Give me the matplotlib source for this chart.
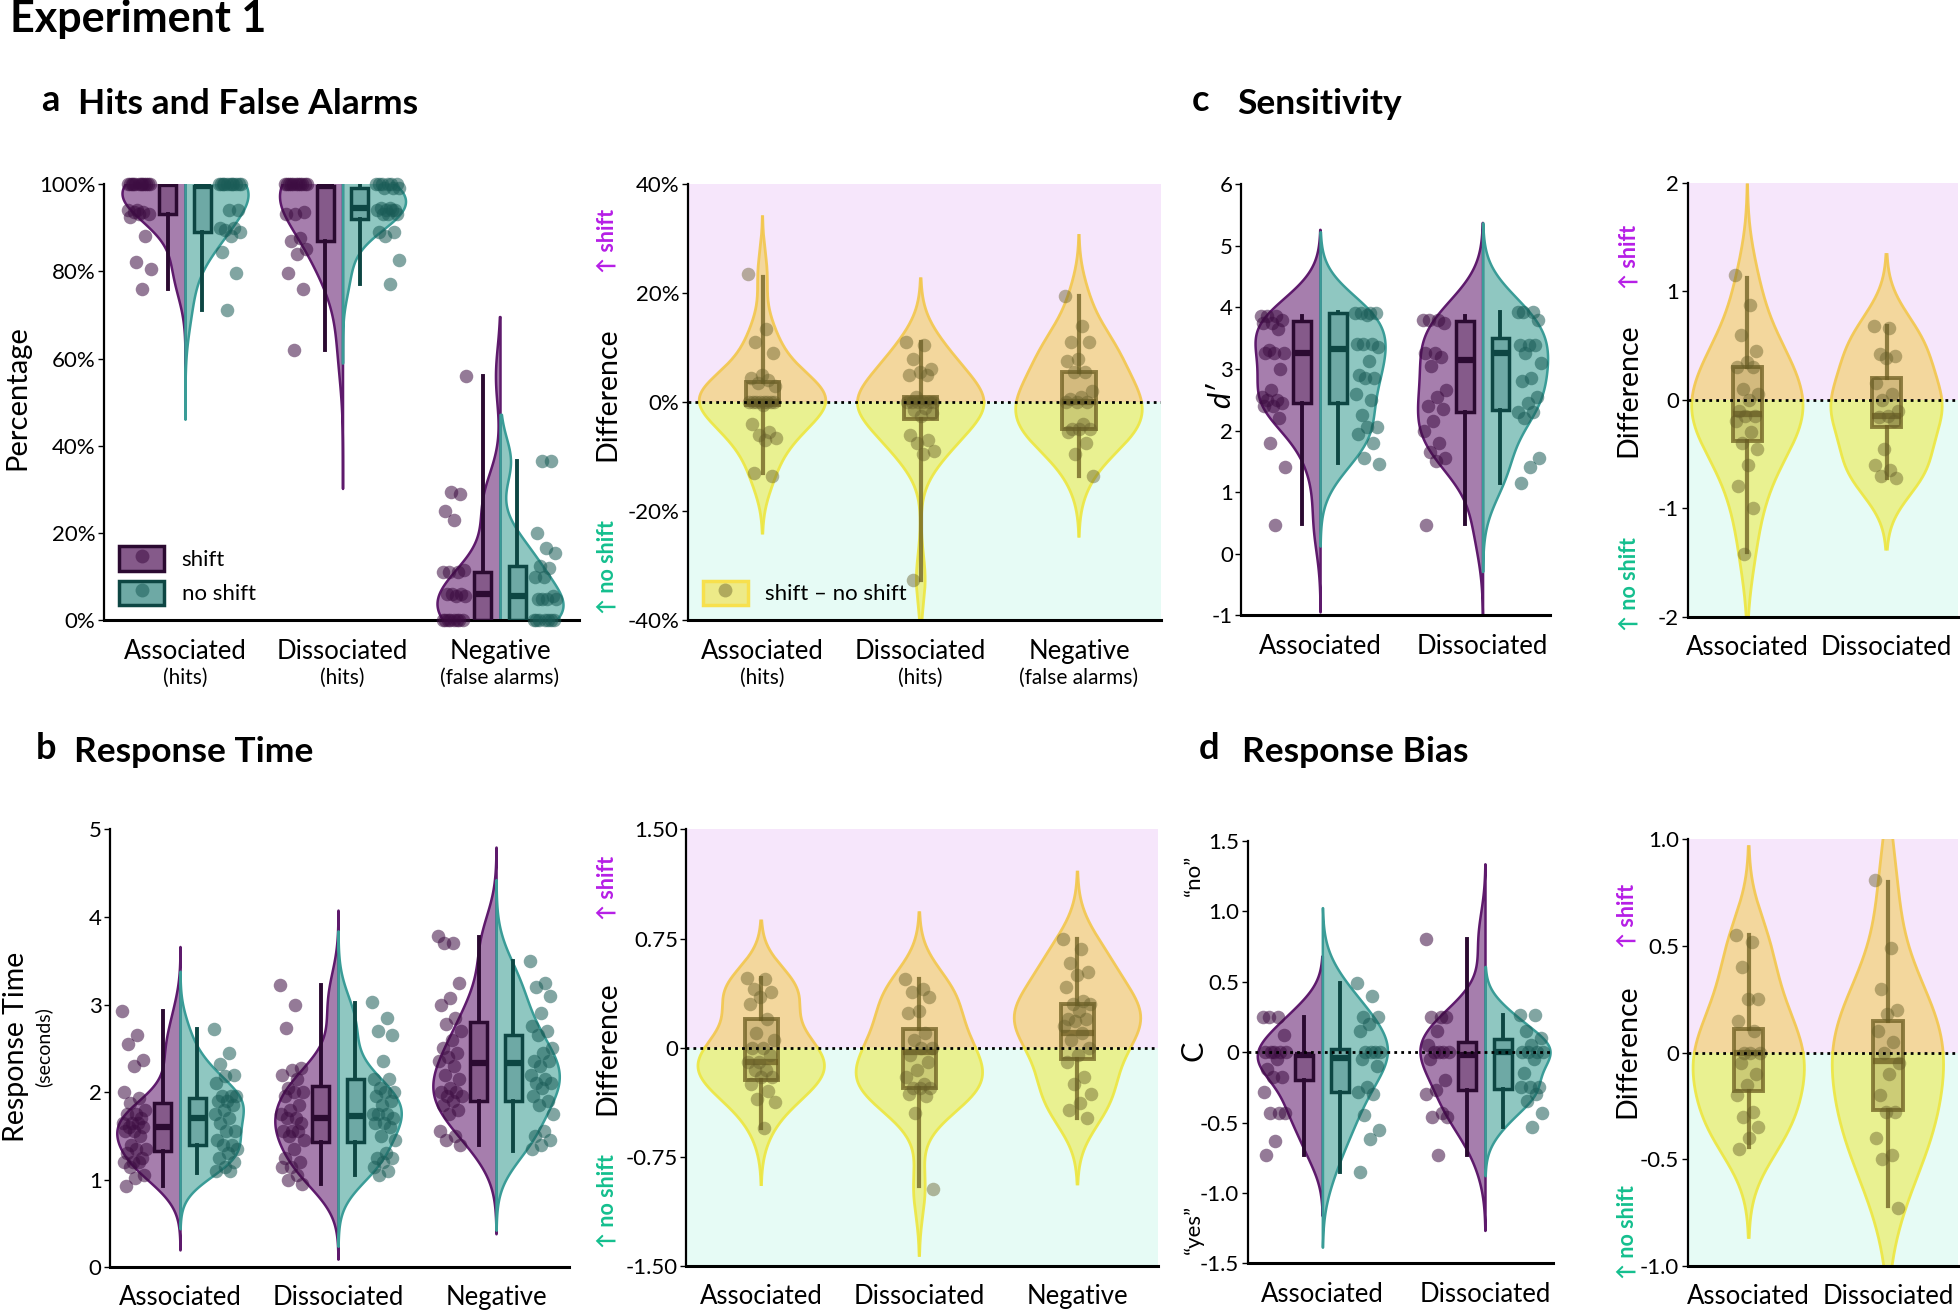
import numpy as np
import matplotlib
matplotlib.use("Agg")
from matplotlib import pyplot as plt
from matplotlib.patches import Patch
from matplotlib.lines import Line2D

plt.rcParams['font.family'] = ['Lato', 'DejaVu Sans']

######## a: hits / false alarms (percent) ########
cats3 = ["Associated", "Dissociated", "Negative"]
sub3 = ["(hits)", "(hits)", "(false alarms)"]
cats2 = ["Associated", "Dissociated"]

hits_assoc_shift = [100, 100, 100, 100, 100, 100, 100, 100, 100, 100, 100, 100, 94, 94, 93.5, 93.5, 93, 93, 92.5, 88, 82, 80.5, 76]
hits_assoc_noshift = [100, 100, 100, 100, 100, 100, 100, 100, 100, 100, 100, 94, 94, 90, 90, 89.5, 89, 88, 84.5, 79.5, 71]
hits_dissoc_shift = [100, 100, 100, 100, 100, 100, 100, 100, 100, 100, 100, 93.5, 93, 93, 87.5, 87, 85, 84, 79.5, 76, 62]
hits_dissoc_noshift = [100, 100, 100, 100, 100, 100, 99, 99, 99, 94.5, 94.5, 94, 94, 94, 94, 93, 93, 93, 89, 89, 88, 82.5, 77]
fa_neg_shift = [0, 0, 0, 0, 0, 0, 0, 0, 5.5, 5.5, 6, 6, 6, 11, 11, 11, 11.5, 23, 25, 29, 29.5, 56]
fa_neg_noshift = [0, 0, 0, 0, 0, 0, 0, 5, 5, 5, 5, 5.5, 10, 10, 12, 12.5, 15.5, 16.5, 20, 36.5, 36.5]
# box stats: whislo, q1, med, q3, whishi
box_hits_assoc_shift = [76, 93, 100, 100, 100]
box_hits_assoc_noshift = [71, 89, 99.5, 99.5, 100]
box_hits_dissoc_shift = [62, 87, 99.5, 99.5, 100]
box_hits_dissoc_noshift = [77, 92, 94.5, 99, 100]
box_fa_neg_shift = [0, 0, 6, 11, 56]
box_fa_neg_noshift = [0, 0, 5.5, 12.5, 36.5]

diff_hits_assoc = [23.5, 13.5, 11, 9, 5, 4.5, 4, 3.5, 3, 0, 0, 0, 0, 0, 0, 0, 0, -0.5, -4, -5.5, -6, -6.5, -7, -13, -13.5]
diff_hits_dissoc = [11, 10.5, 8, 6, 5.5, 5, 5, 1, 0, 0, 0, 0, 0, 0, -1, -1.5, -2, -2.5, -6, -7, -7.5, -9, -9.5, -32.5]
diff_fa_neg = [19.5, 14, 11, 11, 8, 7.5, 5.5, 5.5, 2, 1, 0.5, 0, 0, 0, -4, -5, -5, -5, -5.5, -7.5, -9.5, -13.5]
box_diff_hits_assoc = [-13, -0.5, 0, 3.7, 23]
box_diff_hits_dissoc = [-32.5, -3, 0, 1, 11]
box_diff_fa_neg = [-13.5, -5, 0, 5.5, 19.5]

######## b: response time (s) ########
rt_assoc_shift = [2.93, 2.65, 2.55, 2.37, 2.3, 2.0, 1.93, 1.88, 1.8, 1.75, 1.75, 1.7, 1.65, 1.65, 1.65, 1.6, 1.6, 1.55, 1.55, 1.5, 1.4, 1.35, 1.35, 1.3, 1.25, 1.2, 1.2, 1.2, 1.15, 1.05, 1.02, 0.93]
rt_assoc_noshift = [2.72, 2.45, 2.32, 2.2, 2.18, 2.1, 1.95, 1.95, 1.95, 1.9, 1.9, 1.85, 1.8, 1.75, 1.7, 1.65, 1.55, 1.55, 1.45, 1.4, 1.4, 1.35, 1.3, 1.25, 1.2, 1.15, 1.1, 1.1]
rt_dissoc_shift = [3.22, 3.0, 2.73, 2.28, 2.25, 2.2, 2.15, 2.05, 2.0, 2.0, 1.95, 1.85, 1.8, 1.75, 1.7, 1.7, 1.65, 1.55, 1.55, 1.55, 1.5, 1.45, 1.35, 1.25, 1.2, 1.15, 1.15, 1.05, 1.0, 0.95]
rt_dissoc_noshift = [3.03, 2.85, 2.7, 2.65, 2.35, 2.15, 2.15, 2.05, 2.0, 2.0, 1.95, 1.9, 1.85, 1.75, 1.75, 1.75, 1.7, 1.65, 1.65, 1.6, 1.5, 1.45, 1.3, 1.25, 1.25, 1.2, 1.15, 1.1, 1.05]
rt_neg_shift = [3.78, 3.7, 3.7, 3.25, 3.08, 3.0, 2.85, 2.78, 2.7, 2.6, 2.5, 2.45, 2.4, 2.35, 2.3, 2.2, 2.15, 2.05, 2.0, 2.0, 1.95, 1.95, 1.9, 1.85, 1.8, 1.75, 1.55, 1.5, 1.45, 1.4]
rt_neg_noshift = [3.5, 3.25, 3.2, 3.1, 2.9, 2.75, 2.7, 2.65, 2.5, 2.45, 2.35, 2.35, 2.3, 2.2, 2.15, 2.1, 2.1, 2.05, 1.95, 1.9, 1.85, 1.75, 1.55, 1.5, 1.45, 1.4, 1.35]
box_rt_assoc_shift = [0.93, 1.33, 1.6, 1.88, 2.93]
box_rt_assoc_noshift = [1.08, 1.4, 1.7, 1.93, 2.72]
box_rt_dissoc_shift = [0.95, 1.43, 1.7, 2.07, 3.22]
box_rt_dissoc_noshift = [1.05, 1.43, 1.73, 2.15, 3.02]
box_rt_neg_shift = [1.4, 1.9, 2.33, 2.8, 3.77]
box_rt_neg_noshift = [1.33, 1.9, 2.33, 2.65, 3.5]

diff_rt_assoc = [0.48, 0.47, 0.4, 0.38, 0.35, 0.3, 0.2, 0.1, 0.05, 0.0, 0.0, -0.05, -0.1, -0.1, -0.15, -0.15, -0.2, -0.2, -0.25, -0.3, -0.35, -0.37, -0.55]
diff_rt_dissoc = [0.47, 0.4, 0.38, 0.35, 0.25, 0.24, 0.1, 0.05, 0.0, 0.0, -0.05, -0.1, -0.15, -0.2, -0.25, -0.28, -0.28, -0.28, -0.32, -0.33, -0.45, -0.97]
diff_rt_neg = [0.75, 0.68, 0.58, 0.52, 0.5, 0.42, 0.32, 0.3, 0.3, 0.25, 0.2, 0.2, 0.18, 0.15, 0.1, 0.05, 0.0, -0.05, -0.1, -0.2, -0.25, -0.32, -0.38, -0.43, -0.48]
box_diff_rt_assoc = [-0.55, -0.22, -0.1, 0.2, 0.48]
box_diff_rt_dissoc = [-0.95, -0.28, -0.03, 0.13, 0.47]
box_diff_rt_neg = [-0.48, -0.08, 0.1, 0.3, 0.75]

######## c: sensitivity d' ########
dp_assoc_shift = [3.85, 3.85, 3.85, 3.8, 3.75, 3.75, 3.65, 3.3, 3.25, 3.25, 3.25, 3.0, 2.65, 2.55, 2.5, 2.5, 2.45, 2.4, 2.4, 2.2, 1.8, 1.4, 0.47]
dp_assoc_noshift = [3.9, 3.9, 3.9, 3.9, 3.88, 3.4, 3.4, 3.4, 3.35, 3.12, 2.9, 2.85, 2.85, 2.6, 2.5, 2.25, 2.05, 2.05, 1.95, 1.8, 1.55, 1.45]
dp_dissoc_shift = [3.8, 3.8, 3.8, 3.75, 3.25, 3.25, 3.2, 3.05, 2.65, 2.55, 2.4, 2.35, 2.15, 2.0, 1.8, 1.65, 1.55, 1.5, 0.47]
dp_dissoc_noshift = [3.93, 3.93, 3.93, 3.8, 3.38, 3.38, 3.38, 3.25, 3.1, 2.85, 2.8, 2.55, 2.45, 2.3, 2.3, 2.2, 1.55, 1.4, 1.15]
box_dp_assoc_shift = [0.48, 2.45, 3.25, 3.78, 3.85]
box_dp_assoc_noshift = [1.47, 2.45, 3.33, 3.9, 3.93]
box_dp_dissoc_shift = [0.48, 2.3, 3.15, 3.78, 3.85]
box_dp_dissoc_noshift = [1.15, 2.33, 3.25, 3.5, 3.93]

diff_dp_assoc = [1.15, 0.87, 0.6, 0.45, 0.35, 0.3, 0.3, 0.1, 0.05, 0.0, -0.1, -0.15, -0.15, -0.2, -0.3, -0.4, -0.45, -0.6, -0.8, -1.0, -1.42]
diff_dp_dissoc = [0.68, 0.66, 0.42, 0.4, 0.38, 0.15, 0.05, 0.0, -0.1, -0.15, -0.16, -0.2, -0.45, -0.6, -0.65, -0.7, -0.72]
box_diff_dp_assoc = [-1.4, -0.38, -0.13, 0.3, 1.12]
box_diff_dp_dissoc = [-0.72, -0.25, -0.15, 0.2, 0.68]

######## d: response bias C ########
c_assoc_shift = [0.25, 0.25, 0.25, 0.12, 0.0, 0.0, 0.0, 0.0, 0.0, -0.05, -0.12, -0.18, -0.18, -0.28, -0.43, -0.43, -0.43, -0.63, -0.73]
c_assoc_noshift = [0.49, 0.4, 0.25, 0.25, 0.2, 0.15, 0.0, 0.0, 0.0, 0.0, -0.05, -0.1, -0.25, -0.28, -0.3, -0.45, -0.55, -0.62, -0.85]
c_dissoc_shift = [0.8, 0.25, 0.25, 0.25, 0.15, 0.05, 0.0, 0.0, 0.0, 0.0, -0.05, -0.2, -0.27, -0.3, -0.43, -0.46, -0.46, -0.73]
c_dissoc_noshift = [0.26, 0.26, 0.15, 0.1, 0.05, 0.0, 0.0, 0.0, 0.0, -0.05, -0.15, -0.25, -0.25, -0.25, -0.3, -0.35, -0.43, -0.53]
box_c_assoc_shift = [-0.73, -0.2, -0.02, -0.02, 0.25]
box_c_assoc_noshift = [-0.85, -0.28, -0.04, 0.02, 0.49]
box_c_dissoc_shift = [-0.73, -0.27, -0.02, 0.07, 0.8]
box_c_dissoc_noshift = [-0.53, -0.26, 0.0, 0.09, 0.26]

diff_c_assoc = [0.55, 0.52, 0.4, 0.25, 0.25, 0.15, 0.1, 0.0, 0.0, 0.0, -0.05, -0.1, -0.15, -0.2, -0.28, -0.3, -0.35, -0.4, -0.45]
diff_c_dissoc = [0.81, 0.49, 0.3, 0.2, 0.18, 0.1, 0.05, 0.0, -0.05, -0.1, -0.2, -0.28, -0.28, -0.4, -0.48, -0.5, -0.73]
box_diff_c_assoc = [-0.44, -0.18, 0.0, 0.11, 0.55]
box_diff_c_dissoc = [-0.72, -0.27, -0.04, 0.15, 0.8]

######## colours ########
SH_FACE = (0.40, 0.13, 0.45, 0.58)
SH_EDGE = "#5e1a6c"
SH_BOX = "#855a8a"
SH_DARK = "#2b0a31"
SH_PT = (0.24, 0.05, 0.26, 0.55)
NS_FACE = (0.20, 0.60, 0.56, 0.55)
NS_EDGE = "#3a9c97"
NS_BOX = "#6ea9a5"
NS_DARK = "#0d4643"
NS_PT = (0.10, 0.36, 0.34, 0.55)
UP_FACE = (0.95, 0.79, 0.25, 0.5)
UP_EDGE = (0.95, 0.78, 0.30, 0.9)
DN_FACE = (0.93, 0.91, 0.18, 0.5)
DN_EDGE = (0.93, 0.90, 0.25, 0.9)
D_BOXF = (0.55, 0.47, 0.22, 0.3)
D_BOXE = (0.42, 0.36, 0.12, 0.75)
D_PT = (0.40, 0.37, 0.16, 0.45)
PINK = "#f6e6fb"
MINT = "#e6fbf5"

W, H = 1568., 1048.


def rect(x0, y0, x1, y1):
    return [x0 / W, 1 - y1 / H, (x1 - x0) / W, (y1 - y0) / H]


def kde(vals, cut=3.0, bws=1.0, extra=None):
    v = np.asarray(vals, float)
    bw = bws * v.std(ddof=1) * len(v) ** (-0.2)
    g = np.linspace(v.min() - cut * bw, v.max() + cut * bw, 400)
    if extra is not None:
        g = np.union1d(g, extra)
    d = np.exp(-0.5 * ((g[:, None] - v[None, :]) / bw) ** 2).sum(1)
    return g, d / d.max()


def jit(n, spread):
    return ((np.arange(n) * 0.618034) % 1 - 0.5) * 2 * spread


def stats(b):
    return dict(whislo=b[0], q1=b[1], med=b[2], q3=b[3], whishi=b[4])


def style(ax, xlim, ylim, yticks, ylabels, cats):
    ax.set_xlim(*xlim)
    ax.set_ylim(*ylim)
    for s in ["top", "right"]:
        ax.spines[s].set_visible(False)
    ax.spines["left"].set_linewidth(1.6)
    ax.spines["bottom"].set_linewidth(2.2)
    ax.set_yticks(yticks)
    ax.set_yticklabels(ylabels, fontsize=16)
    ax.set_xticks(range(len(cats)))
    ax.set_xticklabels(cats, fontsize=18.5)
    ax.tick_params(axis="x", length=0, pad=13)
    ax.tick_params(axis="y", length=4, width=1, pad=2)
    ax.set_facecolor("none")


def split_panel(ax, groups_shift, groups_noshift, boxes_shift, boxes_noshift, kdeopts=None):
    n = len(groups_shift)
    if kdeopts is None:
        kdeopts = [(3.0, 1.0)] * n
    for i, (vs, vn) in enumerate(zip(groups_shift, groups_noshift)):
        cut, bws = kdeopts[i]
        g, d = kde(vs, cut, bws)
        ax.fill_betweenx(g, i, i - 0.4 * d, facecolor=SH_FACE, edgecolor=SH_EDGE, lw=1.8, zorder=2)
        g, d = kde(vn, cut, bws)
        ax.fill_betweenx(g, i, i + 0.4 * d, facecolor=NS_FACE, edgecolor=NS_EDGE, lw=1.8, zorder=2)
        ax.scatter(i - 0.29 + jit(len(vs), 0.075), vs, s=95, color=SH_PT, lw=0, zorder=5, clip_on=False)
        ax.scatter(i + 0.29 + jit(len(vn), 0.075), vn, s=95, color=NS_PT, lw=0, zorder=5, clip_on=False)
    for boxes, off, fc, dk in [(boxes_shift, -0.11, SH_BOX, SH_DARK), (boxes_noshift, 0.11, NS_BOX, NS_DARK)]:
        ax.bxp([stats(b) for b in boxes], positions=np.arange(n) + off, widths=0.11,
               patch_artist=True, showfliers=False, showcaps=False, zorder=4,
               boxprops=dict(facecolor=fc, edgecolor=dk, lw=2.5),
               whiskerprops=dict(color=dk, lw=2.8),
               medianprops=dict(color=dk, lw=4.5, solid_capstyle="butt"))


def diff_panel(ax, groups, boxes, ylim):
    ax.axhspan(0, ylim[1], color=PINK, zorder=0, lw=0)
    ax.axhspan(ylim[0], 0, color=MINT, zorder=0, lw=0)
    for i, v in enumerate(groups):
        g, d = kde(v, cut=2.5, extra=[0.0])
        d = 0.4 * d
        up = g >= 0
        dn = g <= 0
        ax.fill_betweenx(g[up], i - d[up], i + d[up], facecolor=UP_FACE, lw=0, zorder=2)
        ax.fill_betweenx(g[dn], i - d[dn], i + d[dn], facecolor=DN_FACE, lw=0, zorder=2)
        for sgn in (-1, 1):
            ax.plot(i + sgn * d[up], g[up], color=UP_EDGE, lw=2, zorder=2)
            ax.plot(i + sgn * d[dn], g[dn], color=DN_EDGE, lw=2, zorder=2)
        ax.scatter(i + jit(len(v), 0.09), v, s=95, color=D_PT, lw=0, zorder=5)
    ax.bxp([stats(b) for b in boxes], positions=np.arange(len(boxes)), widths=0.21,
           patch_artist=True, showfliers=False, showcaps=False, zorder=4,
           boxprops=dict(facecolor=D_BOXF, edgecolor=D_BOXE, lw=2.8),
           whiskerprops=dict(color=D_BOXE, lw=3),
           medianprops=dict(color=D_BOXE, lw=4.5, solid_capstyle="butt"))
    ax.axhline(0, color="k", ls=(0, (1, 1.5)), lw=2, zorder=6)


def subl(ax, labels):
    for i, t in enumerate(labels):
        ax.annotate(t, xy=(i, 0), xycoords=("data", "axes fraction"), xytext=(0, -34),
                    textcoords="offset points", ha="center", va="top", fontsize=15)


def ftext(x, y, t, **kw):
    fig.text(x / W, 1 - y / H, t, ha="center", va="center", **kw)


fig = plt.figure(figsize=(19.6, 13.11), dpi=100, facecolor="w")

# ---- a ----
ax = fig.add_axes(rect(83, 147, 463, 496))
split_panel(ax, [hits_assoc_shift, hits_dissoc_shift, fa_neg_shift],
            [hits_assoc_noshift, hits_dissoc_noshift, fa_neg_noshift],
            [box_hits_assoc_shift, box_hits_dissoc_shift, box_fa_neg_shift],
            [box_hits_assoc_noshift, box_hits_dissoc_noshift, box_fa_neg_noshift],
            kdeopts=[(4.0, 1.4), (4.0, 1.4), (2.0, 0.9)])
style(ax, (-0.516, 2.5), (0, 100), [0, 20, 40, 60, 80, 100], ["0%", "20%", "40%", "60%", "80%", "100%"], cats3)
subl(ax, sub3)
h1 = (Patch(facecolor=SH_BOX, edgecolor=SH_DARK, lw=2.5), Line2D([], [], ls="", marker="o", ms=10, color=SH_PT, mew=0))
h2 = (Patch(facecolor=NS_BOX, edgecolor=NS_DARK, lw=2.5), Line2D([], [], ls="", marker="o", ms=10, color=NS_PT, mew=0))
ax.legend([h1, h2], ["shift", "no shift"], loc="lower left", bbox_to_anchor=(0.0, 0.0), frameon=False,
          fontsize=16, handlelength=2.0, handleheight=1.3, labelspacing=0.45, borderaxespad=0.3)

ax = fig.add_axes(rect(550, 147, 929, 496))
diff_panel(ax, [diff_hits_assoc, diff_hits_dissoc, diff_fa_neg],
           [box_diff_hits_assoc, box_diff_hits_dissoc, box_diff_fa_neg], (-40, 40))
style(ax, (-0.474, 2.52), (-40, 40), [-40, -20, 0, 20, 40], ["-40%", "-20%", "0%", "20%", "40%"], cats3)
subl(ax, sub3)
hd = (Patch(facecolor=(0.95, 0.88, 0.25, 0.6), edgecolor=(0.97, 0.88, 0.3), lw=2.5),
      Line2D([], [], ls="", marker="o", ms=10, color=D_PT, mew=0))
ax.legend([hd], ["shift – no shift"], loc="lower left", frameon=False, fontsize=16,
          handlelength=2.0, handleheight=1.3, borderaxespad=0.3)

# ---- c ----
ax = fig.add_axes(rect(993, 147, 1240, 492))
split_panel(ax, [dp_assoc_shift, dp_dissoc_shift], [dp_assoc_noshift, dp_dissoc_noshift],
            [box_dp_assoc_shift, box_dp_dissoc_shift], [box_dp_assoc_noshift, box_dp_dissoc_noshift])
style(ax, (-0.485, 1.415), (-1, 6), range(-1, 7), [str(t) for t in range(-1, 7)], cats2)

ax = fig.add_axes(rect(1350, 146, 1566, 493))
diff_panel(ax, [diff_dp_assoc, diff_dp_dissoc], [box_diff_dp_assoc, box_diff_dp_dissoc], (-2, 2))
style(ax, (-0.43, 1.51), (-2, 2), [-2, -1, 0, 1, 2], ["-2", "-1", "0", "1", "2"], cats2)

# ---- b ----
ax = fig.add_axes(rect(88, 663, 455, 1013))
split_panel(ax, [rt_assoc_shift, rt_dissoc_shift, rt_neg_shift],
            [rt_assoc_noshift, rt_dissoc_noshift, rt_neg_noshift],
            [box_rt_assoc_shift, box_rt_dissoc_shift, box_rt_neg_shift],
            [box_rt_assoc_noshift, box_rt_dissoc_noshift, box_rt_neg_noshift])
style(ax, (-0.443, 2.46), (0, 5), range(0, 6), [str(t) for t in range(0, 6)], cats3)

ax = fig.add_axes(rect(549, 663, 926, 1012))
diff_panel(ax, [diff_rt_assoc, diff_rt_dissoc, diff_rt_neg],
           [box_diff_rt_assoc, box_diff_rt_dissoc, box_diff_rt_neg], (-1.5, 1.5))
style(ax, (-0.474, 2.506), (-1.5, 1.5), [-1.5, -0.75, 0, 0.75, 1.5], ["-1.50", "-0.75", "0", "0.75", "1.50"], cats3)

# ---- d ----
ax = fig.add_axes(rect(998, 672, 1242, 1010))
split_panel(ax, [c_assoc_shift, c_dissoc_shift], [c_assoc_noshift, c_dissoc_noshift],
            [box_c_assoc_shift, box_c_dissoc_shift], [box_c_assoc_noshift, box_c_dissoc_noshift],
            kdeopts=[(2.7, 1.0), (2.7, 1.0)])
ax.axhline(0, color="k", ls=(0, (1, 1.5)), lw=2, zorder=6)
style(ax, (-0.46, 1.415), (-1.5, 1.5), [-1.5, -1, -0.5, 0, 0.5, 1, 1.5],
      ["-1.5", "-1.0", "-0.5", "0", "0.5", "1.0", "1.5"], cats2)

ax = fig.add_axes(rect(1350, 671, 1566, 1012))
diff_panel(ax, [diff_c_assoc, diff_c_dissoc], [box_diff_c_assoc, box_diff_c_dissoc], (-1, 1))
style(ax, (-0.44, 1.5), (-1, 1), [-1, -0.5, 0, 0.5, 1], ["-1.0", "-0.5", "0", "0.5", "1.0"], cats2)

# ---- titles & labels ----
fig.text(8 / W, 1 - 15 / H, "Experiment 1", fontsize=31, weight="bold", va="center", ha="left")
for x, y, letter, xt, title in [(40, 80, "a", 62, "Hits and False Alarms"), (37, 598, "b", 59, "Response Time"),
                                (960, 80, "c", 990, "Sensitivity"), (967, 598, "d", 994, "Response Bias")]:
    fig.text(x / W, 1 - y / H, letter, fontsize=26, weight="bold", va="center", ha="center")
    fig.text(xt / W, 1 - (y + 3) / H, title, fontsize=25.5, weight="bold", va="center", ha="left")

MAG = "#b61ee6"
GRN = "#14bf8e"
ftext(14, 318, "Percentage", fontsize=21, rotation=90)
ftext(13, 837, "Response Time", fontsize=20.5, rotation=90)
ftext(35, 837, "(seconds)", fontsize=14, rotation=90)
ftext(977, 316, "d\u2032", fontsize=22, rotation=90, style="italic")
ftext(955, 840, "C", fontsize=22, rotation=90)
ftext(955, 700, "\u201cno\u201d", fontsize=16, rotation=90)
ftext(955, 983, "\u201cyes\u201d", fontsize=16, rotation=90)
for x, yd, ys, yn in [(486, 315, 193, 453), (1303, 312, 205, 467), (486, 838, 710, 960), (1302, 840, 732, 985)]:
    ftext(x, yd, "Difference", fontsize=20.5, rotation=90)
    ftext(x, ys, "\u2191 shift", fontsize=15.5, rotation=90, color=MAG, weight="bold")
    ftext(x, yn, "\u2191 no shift", fontsize=15.5, rotation=90, color=GRN, weight="bold")

fig.savefig("out.png", dpi=100, facecolor="w")
